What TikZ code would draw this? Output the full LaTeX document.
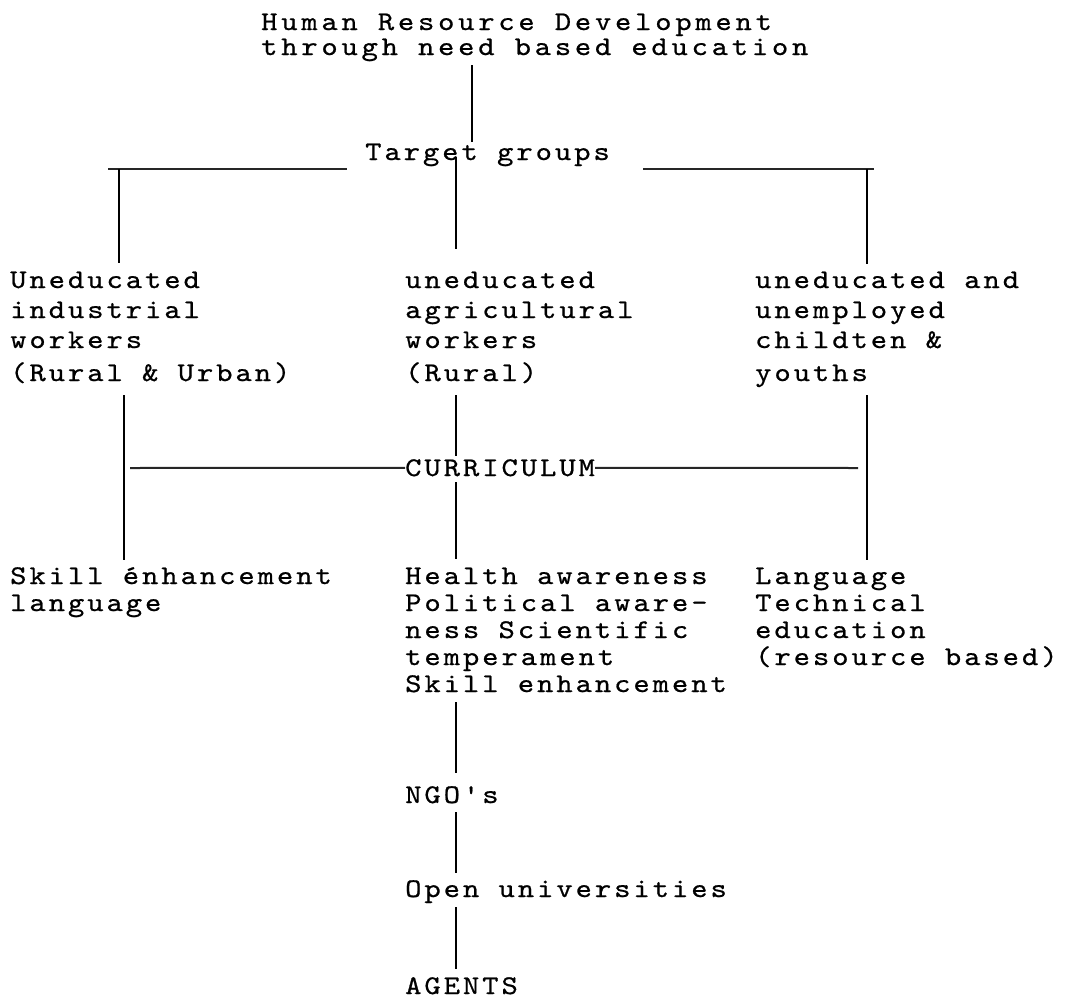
\documentclass[tikz,border=0pt]{standalone}
\usepackage{fontspec}
\newfontfamily\tw{lmmono10-regular.otf}[FakeStretch=1.15,LetterSpace=11,FakeBold=0.7]
\newfontfamily\twt{lmmono10-regular.otf}[FakeStretch=1.15,LetterSpace=14,FakeBold=0.7]
\tikzset{
  txt/.style={font=\tw\fontsize{27}{27}\selectfont, inner sep=0pt, anchor=base west, text=black},
  ttl/.style={txt, font=\twt\fontsize{27}{27}\selectfont},
  vline/.style={line width=2.4pt, black},
  hline/.style={line width=2pt, black!85}
}
\begin{document}
\begin{tikzpicture}[x=1pt,y=-1pt]
\useasboundingbox (0,0) rectangle (1078,999);
% title
\node[ttl] (title1) at (261,30) {Human Resource Development};
\node[ttl] (title2) at (261,55) {through need based education};
\node[txt] (target) at (365,160) {Target groups};
\coordinate (tA) at (472,65);
\coordinate (tB) at (472,142);
\draw[vline] (tA) -- (tB);
% horizontal branches
\coordinate (hl1) at (108,169); \coordinate (hl2) at (347,169);
\coordinate (hr1) at (643,169); \coordinate (hr2) at (874,169);
\draw[hline] (hl1) -- (hl2);
\draw[hline] (hr1) -- (hr2);
\coordinate (lA) at (119,169); \coordinate (lB) at (119,263);
\coordinate (mA) at (456,157); \coordinate (mB) at (456,249);
\coordinate (rA) at (867,169); \coordinate (rB) at (867,264);
\draw[vline] (lA) -- (lB);
\draw[vline] (mA) -- (mB);
\draw[vline] (rA) -- (rB);
% row 1
\node[txt] (a1) at (10,288) {Uneducated};
\node[txt] (a2) at (10,318) {industrial};
\node[txt] (a3) at (10,348) {workers};
\node[txt] (a4) at (10,381) {(Rural \& Urban)};
\node[txt] (b1) at (405,288) {uneducated};
\node[txt] (b2) at (405,318) {agricultural};
\node[txt] (b3) at (405,348) {workers};
\node[txt] (b4) at (405,381) {(Rural)};
\node[txt] (c1) at (755,288) {uneducated and};
\node[txt] (c2) at (755,318) {unemployed};
\node[txt] (c3) at (755,348) {childten \&};
\node[txt] (c4) at (755,381) {youths};
% curriculum level
\node[txt] (cur) at (405,476) {CURRICULUM};
\coordinate (lC) at (124,395); \coordinate (lD) at (124,560);
\coordinate (mC) at (456,395); \coordinate (mD) at (456,456);
\coordinate (mE) at (456,482); \coordinate (mF) at (456,559);
\coordinate (rC) at (867,395); \coordinate (rD) at (867,560);
\draw[vline] (lC) -- (lD);
\draw[vline] (mC) -- (mD);
\draw[vline] (mE) -- (mF);
\draw[vline] (rC) -- (rD);
\coordinate (cL) at (130,468); \coordinate (cR) at (858,468);
\draw[hline] (cL) -- (cur.west);
\draw[hline] (cur.east) -- (cR);
% row 2
\node[txt] (d1) at (10,584) {Skill énhancement};
\node[txt] (d2) at (10,611) {language};
\node[txt] (e1) at (405,584) {Health awareness};
\node[txt] (e2) at (405,611) {Political aware-};
\node[txt] (e3) at (405,638) {ness Scientific};
\node[txt] (e4) at (405,665) {temperament};
\node[txt] (e5) at (405,692) {Skill enhancement};
\node[txt] (f1) at (755,584) {Language};
\node[txt] (f2) at (755,611) {Technical};
\node[txt] (f3) at (755,638) {education};
\node[txt] (f4) at (755,665) {(resource based)};
% bottom chain
\node[txt] (ngo) at (405,803) {NGO's};
\node[txt] (open) at (405,897) {Open universities};
\node[txt] (agents) at (405,994) {AGENTS};
\coordinate (n1) at (456,702); \coordinate (n2) at (456,773);
\coordinate (n3) at (456,812); \coordinate (n4) at (456,873);
\coordinate (n5) at (456,907); \coordinate (n6) at (456,969);
\draw[vline] (n1) -- (n2);
\draw[vline] (n3) -- (n4);
\draw[vline] (n5) -- (n6);
\end{tikzpicture}
\end{document}
